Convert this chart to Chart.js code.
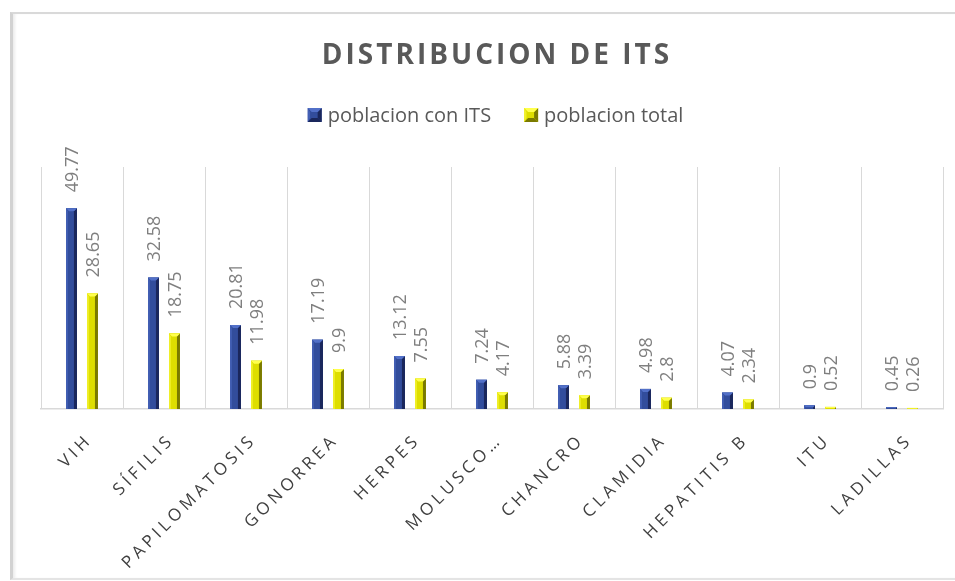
<!DOCTYPE html>
<html>
<head>
<meta charset="utf-8">
<script src="https://cdn.jsdelivr.net/npm/chart.js@4.4.1/dist/chart.umd.min.js"></script>
<style>
html,body{margin:0;padding:0;background:#fff;overflow:hidden;}
#wrap{position:absolute;left:0;top:0;width:955px;height:581px;}
#frame{position:absolute;left:10px;top:12px;width:960px;height:564px;
  border-top:2px solid #d9d9d9;border-left:3px solid #d2d2d2;border-bottom:2px solid #e4e4e4;
  box-shadow:inset 3px 0 3px -1px #ececec;}
canvas{position:absolute;left:0;top:0;}
</style>
</head>
<body>
<div id="wrap">
  <div id="frame"></div>
  <canvas id="chart" width="955" height="581"></canvas>
</div>
<script>
// DATA
const categories = ["VIH","SÍFILIS","PAPILOMATOSIS","GONORREA","HERPES","MOLUSCO…","CHANCRO","CLAMIDIA","HEPATITIS B","ITU","LADILLAS"];
const poblacionConITS = [49.77,32.58,20.81,17.19,13.12,7.24,5.88,4.98,4.07,0.9,0.45];
const poblacionTotal = [28.65,18.75,11.98,9.9,7.55,4.17,3.39,2.8,2.34,0.52,0.26];
const seriesNames = ["poblacion con ITS","poblacion total"];
const chartTitle = "DISTRIBUCION DE ITS";

// COLORS (main / light bevel / dark bevel)
const mainColors = ["#324D9C","#DEDE00"];
const lightColors = ["#5270C8","#FFFF4D"];
const darkColors = ["#1A275C","#7A7A00"];

const FONT = '"Open Sans", "DejaVu Sans", sans-serif';

// bevelled box like the excel "angle" bars
function bevelBox(ctx, left, top, w, h, i, b, withBottom){
  const right = left + w, bottom = top + h;
  ctx.fillStyle = mainColors[i];
  ctx.fillRect(left, top, w, h);
  // right side dark
  ctx.fillStyle = darkColors[i];
  ctx.beginPath();
  ctx.moveTo(right, top);
  ctx.lineTo(right, bottom);
  ctx.lineTo(right - b, withBottom ? bottom - b : bottom);
  ctx.lineTo(right - b, top + b);
  ctx.closePath();
  ctx.fill();
  if(withBottom){
    ctx.beginPath();
    ctx.moveTo(left, bottom);
    ctx.lineTo(right, bottom);
    ctx.lineTo(right - b, bottom - b);
    ctx.lineTo(left + b, bottom - b);
    ctx.closePath();
    ctx.fill();
  }
  // left + top light
  ctx.fillStyle = lightColors[i];
  ctx.globalAlpha = 0.55;
  ctx.beginPath();
  ctx.moveTo(left, top);
  ctx.lineTo(left + b*0.6, top + b);
  ctx.lineTo(left + b*0.6, withBottom ? bottom - b : bottom);
  ctx.lineTo(left, bottom);
  ctx.closePath();
  ctx.fill();
  ctx.globalAlpha = 1;
  ctx.beginPath();
  ctx.moveTo(left, top);
  ctx.lineTo(right, top);
  ctx.lineTo(right - b, top + b);
  ctx.lineTo(left + b, top + b);
  ctx.closePath();
  ctx.fill();
}

const itsPlugin = {
  id: "itsText",
  afterDatasetsDraw(chart){
    const ctx = chart.ctx;
    ctx.save();
    chart.data.datasets.forEach((ds, i) => {
      const meta = chart.getDatasetMeta(i);
      meta.data.forEach((bar, j) => {
        const p = bar.getProps(["x","y","base","width"], true);
        const h = p.base - p.y;
        const left = p.x - p.width/2;
        const b = Math.min(3, h/2);
        if(h > 0.3) bevelBox(ctx, left, p.y, p.width, h, i, b, false);
        // value label, rotated
        ctx.save();
        ctx.translate(p.x + 1, p.y - 16);
        ctx.rotate(-Math.PI/2);
        ctx.font = "18px " + FONT;
        ctx.fillStyle = "#7F7F7F";
        ctx.textAlign = "left";
        ctx.textBaseline = "middle";
        ctx.fillText(String(ds.data[j]), 0, 0);
        ctx.restore();
      });
    });
    ctx.restore();
  },
  afterDraw(chart){
    const ctx = chart.ctx;
    const area = chart.chartArea;
    const xScale = chart.scales.x;

    // TITLE
    ctx.save();
    ctx.font = "bold 28px " + FONT;
    ctx.letterSpacing = "3px";
    ctx.fillStyle = "#595959";
    ctx.textAlign = "center";
    ctx.textBaseline = "alphabetic";
    ctx.fillText(chartTitle, 497, 64);
    ctx.restore();

    // LEGEND
    ctx.save();
    ctx.font = "20px " + FONT;
    const w1 = ctx.measureText(seriesNames[0]).width;
    const w2 = ctx.measureText(seriesNames[1]).width;
    const full = 14 + 6 + w1 + 33 + 14 + 6 + w2;
    let lx = 495.5 - full/2;
    [w1, w2].forEach((w, i) => {
      bevelBox(ctx, lx, 108, 14, 14, i, 4, true);
      ctx.fillStyle = "#595959";
      ctx.textBaseline = "alphabetic";
      ctx.fillText(seriesNames[i], lx + 20, 122);
      lx += 20 + w + 33;
    });
    ctx.restore();

    // X LABELS (rotated, spaced)
    ctx.save();
    ctx.font = "17px " + FONT;
    ctx.letterSpacing = "4px";
    ctx.fillStyle = "#404040";
    ctx.textAlign = "right";
    ctx.textBaseline = "middle";
    categories.forEach((c, i) => {
      const tx = xScale.getPixelForTick(i);
      ctx.save();
      ctx.translate(tx + 5, area.bottom + 31);
      ctx.rotate(-Math.PI/4);
      ctx.fillText(c, 4, 0);
      ctx.restore();
    });
    ctx.restore();
  }
};

const chart = new Chart(document.getElementById("chart").getContext("2d"), {
  type: "bar",
  data: {
    labels: categories,
    datasets: [
      {label: seriesNames[0], data: poblacionConITS, backgroundColor: mainColors[0], borderWidth: 0},
      {label: seriesNames[1], data: poblacionTotal, backgroundColor: mainColors[1], borderWidth: 0}
    ]
  },
  options: {
    responsive: false,
    animation: false,
    layout: {padding: {top: 167, bottom: 172, left: 41, right: 12}},
    datasets: {bar: {categoryPercentage: 0.512, barPercentage: 0.52}},
    plugins: {legend: {display: false}, title: {display: false}, tooltip: {enabled: false}},
    scales: {
      x: {
        grid: {color: "#D9D9D9", lineWidth: 1, drawTicks: false, offset: true},
        border: {color: "#D9D9D9", width: 1.5},
        ticks: {display: false}
      },
      y: {display: false, min: 0, max: 60}
    }
  },
  plugins: [itsPlugin]
});
</script>
</body>
</html>
